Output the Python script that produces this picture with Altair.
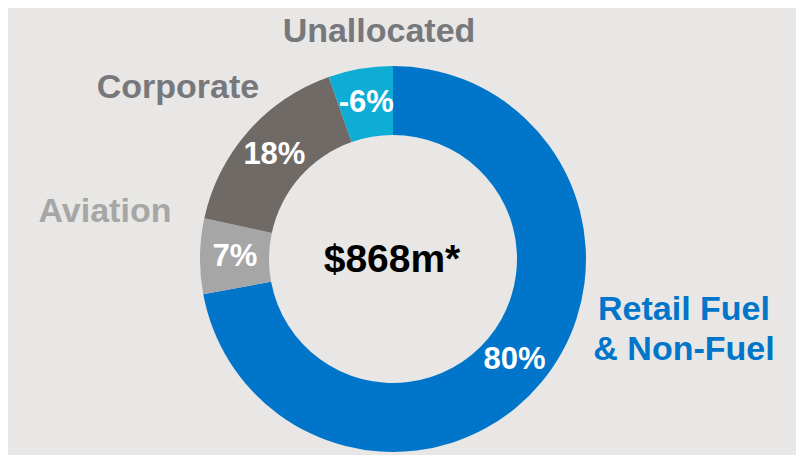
import altair as alt
import pandas as pd

segments = ["Retail Fuel & Non-Fuel", "Aviation", "Corporate", "Unallocated"]
shares = [80, 7, 18, -6]
colors = ["#0075C9", "#A6A6A6", "#6F6A65", "#0EADD5"]
center_label = "$868m*"

df = pd.DataFrame({"segment": segments, "share": shares, "idx": list(range(len(segments)))})
df["size"] = df["share"].abs()
df["label"] = df["share"].astype(str) + "%"

CX, CY = 385, 251
FONT = "Liberation Sans"

base = alt.Chart(df).encode(
    theta=alt.Theta("size:Q", stack=True),
    order=alt.Order("idx:Q"),
)

arcs = base.mark_arc(innerRadius=124, outerRadius=193).encode(
    color=alt.Color("segment:N", scale=alt.Scale(domain=segments, range=colors), legend=None),
    x=alt.value(CX), y=alt.value(CY),
)

pct = base.mark_text(radius=158, font=FONT, fontWeight="bold", fontSize=31,
                     color="white", baseline="middle", align="center").encode(
    text="label:N", x=alt.value(CX), y=alt.value(CY),
)

center = alt.Chart(df).transform_filter(alt.datum.idx == 0).mark_text(
    font=FONT, fontWeight="bold", fontSize=39, color="black", baseline="middle", align="center"
).encode(text=alt.value(center_label), x=alt.value(CX - 1), y=alt.value(CY + 1))


def seg_label(name, x, y, color, text=None):
    enc = dict(x=alt.value(x), y=alt.value(y))
    enc["text"] = alt.value(text) if text is not None else alt.Text("segment:N")
    return alt.Chart(df).transform_filter(alt.datum.segment == name).mark_text(
        font=FONT, fontWeight="bold", fontSize=34, color=color,
        baseline="alphabetic", align="center", lineHeight=40,
    ).encode(**enc)


lab_un = seg_label("Unallocated", 371, 34, "#77787B")
lab_co = seg_label("Corporate", 170, 90, "#77787B")
lab_av = seg_label("Aviation", 97, 214, "#A6A6A6")
lab_re = seg_label("Retail Fuel & Non-Fuel", 676, 312, "#0075C9", ["Retail Fuel", "& Non-Fuel"])

chart = alt.layer(arcs, pct, center, lab_un, lab_co, lab_av, lab_re).properties(
    width=788, height=447, autosize=alt.AutoSizeParams(type="none"), padding=0,
    background="#E8E7E5",
).configure_view(stroke=None)

chart.save("out.html", embed_options={"renderer": "svg", "actions": False})
